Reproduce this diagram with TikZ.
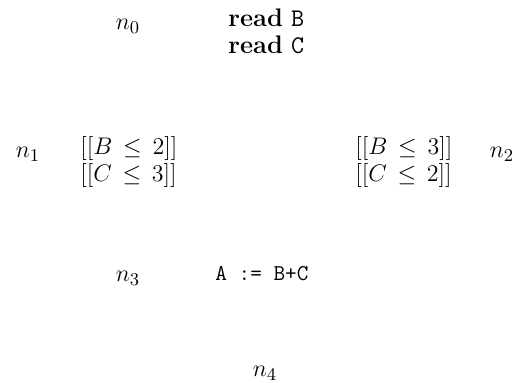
\documentclass[tikz,border=0pt]{standalone}
\newcommand{\ttsm}[1]{{\fontsize{11.3}{13.5}\selectfont\texttt{#1}}}
\newcommand{\ttbg}[1]{{\fontsize{12.7}{13.5}\selectfont\texttt{#1}}}
\newcommand{\myle}{\,\leq\,}
\begin{document}
\begin{tikzpicture}[x=0.5pt,y=-0.5pt,
  every node/.style={inner sep=0pt,font=\fontsize{12.7}{13.5}\selectfont},
  lbl/.style={anchor=base},
  code/.style={anchor=base west}]
\useasboundingbox (0,0) rectangle (516,383);
\node[lbl] (n0) at (128,30) {$n_{0}$};
\node[code] (s0a) at (228,27) {\textbf{read}\ \ttbg{B}};
\node[code] (s0b) at (228,54) {\textbf{read}\ \ttbg{C}};
\node[lbl] (n1) at (28,158) {$n_{1}$};
\node[code] (s1a) at (80,155) {$[[B\myle 2]]$};
\node[code] (s1b) at (80,182) {$[[C\myle 3]]$};
\node[code] (s2a) at (355,155) {$[[B\myle 3]]$};
\node[code] (s2b) at (355,182) {$[[C\myle 2]]$};
\node[lbl] (n2) at (502,158) {$n_{2}$};
\node[lbl] (n3) at (128,282) {$n_{3}$};
\node[code] (s3) at (215,281) {\ttsm{A := B+C}};
\node[lbl] (n4) at (265,377) {$n_{4}$};
\end{tikzpicture}
\end{document}
